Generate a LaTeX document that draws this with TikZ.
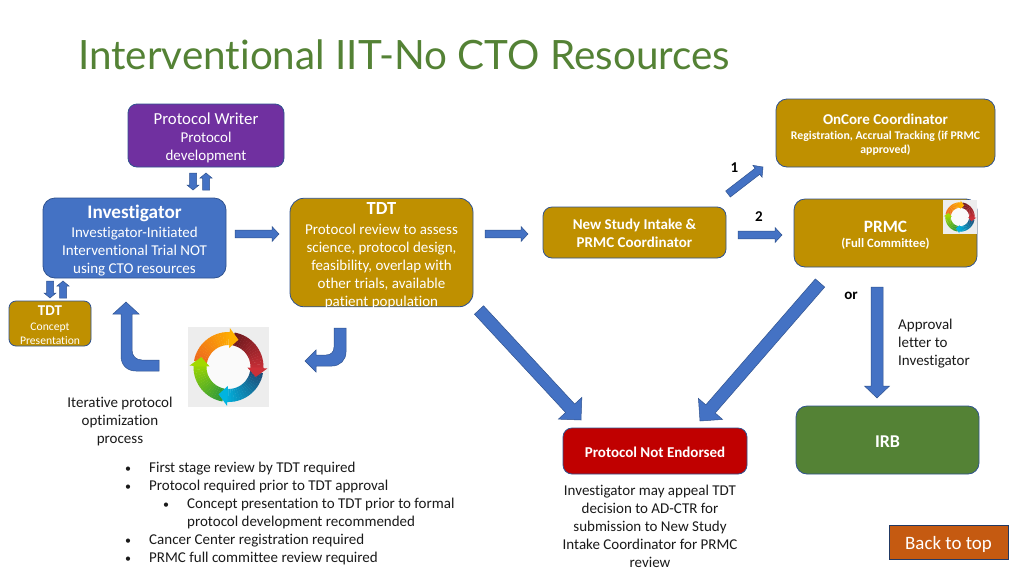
\documentclass[tikz,border=0pt]{standalone}
\usepackage{fontspec}
\setmainfont[Ligatures=NoCommon]{Carlito}
\newfontfamily\titlefont[Ligatures=NoCommon]{Lato}
\usetikzlibrary{calc}
\definecolor{gold}{HTML}{BF9000}
\definecolor{purp}{HTML}{7030A0}
\definecolor{blu}{HTML}{4472C4}
\definecolor{edge}{HTML}{2F528F}
\definecolor{redbox}{HTML}{C00000}
\definecolor{grn}{HTML}{548235}
\definecolor{orng}{HTML}{C55A11}
\definecolor{ink}{HTML}{1A1A1A}
\definecolor{rgA}{HTML}{2F9A3A}\definecolor{rgB}{HTML}{A2D800}
\definecolor{rbA}{HTML}{1F4E79}\definecolor{rbB}{HTML}{00B4E0}
\definecolor{rrA}{HTML}{6E1A1E}\definecolor{rrB}{HTML}{CC3038}
\definecolor{roA}{HTML}{EE6A1E}\definecolor{roB}{HTML}{FFB000}
\newcommand\fs[1]{\fontsize{#1}{18}\selectfont}
\newcommand\st[1]{\rule{0pt}{#1pt}}
\newcommand\blockarrow[5]{%
  \coordinate (ba) at ($(#2)!#5pt!(#1)$);
  \draw[blockstyle] ($(#1)!#3pt!90:(#2)$) -- ($(ba)!#3pt!90:(#2)$) -- ($(ba)!#4pt!90:(#2)$) -- (#2)
    -- ($(ba)!#4pt!-90:(#2)$) -- ($(ba)!#3pt!-90:(#2)$) -- ($(#1)!#3pt!-90:(#2)$) -- cycle;}
\newcommand\ringbody[3]{%
  \foreach \i [evaluate=\i as \p using {int(100*\i/17)}, evaluate=\i as \ang using {#1-10+5*\i}] in {0,...,16}{
    \fill[#3!\p!#2] (\ang:35) -- (\ang+5.5:35) -- (\ang+5.5:22) -- (\ang:22) -- cycle;}}
\newcommand\ringhead[2]{\fill[#2] (#1+72:19) -- (#1+72:39) -- (#1+90:29) -- cycle;}
\tikzset{
  x=1pt,y=-1pt,
  box/.style={draw=edge,line width=.8pt,rounded corners=9pt,inner sep=0pt,align=center,text=white,font=\fs{15}},
  blockstyle/.style={fill=blu,draw=edge,line width=.5pt,line join=miter},
  plain/.style={inner sep=0pt,align=center,text=ink,font=\fs{15}},
  lab/.style={inner sep=0pt,text=black,font=\fs{15}\bfseries},
  pics/cycle/.style={code={
    \fill[black!7] (-40.5,-40) rectangle (40.5,40);
    \fill[black!2] (0,0) circle (24pt);
    \ringbody{110}{rgA}{rgB}
    \ringbody{20}{rbA}{rbB}
    \ringbody{290}{rrA}{rrB}
    \ringbody{200}{roA}{roB}
    \ringhead{110}{rgB}
    \ringhead{20}{rbB}
    \ringhead{290}{rrB}
    \ringhead{200}{roB}
  }}
}
\begin{document}
\begin{tikzpicture}
\useasboundingbox (0,0) rectangle (1024,576);
\fill[white] (0,0) rectangle (1024,576);
\node[inner sep=0pt,anchor=west,text=grn] (title) at (78,54.5) {\titlefont\fontsize{40.4}{44}\selectfont Interventional IIT-No CTO Resources};

\node[box,fill=purp,minimum width=156pt,minimum height=63pt] (writer) at (206,135.5)
  {{\st{16.5}\fs{16.8}Protocol Writer}\\[0pt]Protocol\\development};
\node[box,fill=blu,minimum width=183pt,minimum height=80pt,rounded corners=12pt] (inv) at (134.5,238)
  {{\st{19}\fs{19.2}\bfseries Investigator}\\[1pt]Investigator-Initiated\\Interventional Trial NOT\\using CTO resources};
\node[box,fill=gold,minimum width=183pt,minimum height=108.5pt,rounded corners=14pt] (tdt) at (381.5,252.5) {};
\node[plain,text=white] (tdttext) at (tdt.center)
  {{\st{19}\fs{18.5}\bfseries TDT}\\[2pt]Protocol review to assess\\science, protocol design,\\feasibility, overlap with\\other trials, available\\patient population};
\node[box,fill=gold,minimum width=82pt,minimum height=45pt,rounded corners=7pt,font=\fontsize{11.6}{14}\selectfont] (concept) at (50,323.5)
  {{\st{12.5}\fontsize{15}{14}\selectfont\bfseries TDT}\\[1pt]Concept\\Presentation};
\node[box,fill=gold,minimum width=219pt,minimum height=68pt,rounded corners=11pt,font=\fontsize{11.8}{14}\selectfont\bfseries] (oncore) at (885.5,133)
  {{\st{14}\fontsize{15}{14}\selectfont OnCore Coordinator}\\[1pt]Registration, Accrual Tracking (if PRMC\\approved)};
\node[box,fill=gold,minimum width=183pt,minimum height=51pt,font=\fs{15}\bfseries] (intake) at (634.5,232.5)
  {\st{12.5}New Study Intake \&\\PRMC Coordinator};
\node[box,fill=gold,minimum width=183pt,minimum height=68pt,rounded corners=11pt,font=\fs{12.7}\bfseries] (prmc) at (885.5,233)
  {{\st{16}\fs{17.3}PRMC}\\[-3pt](Full Committee)};
\node[box,fill=redbox,minimum width=184pt,minimum height=46pt,font=\fs{15}\bfseries] (notend) at (655,451)
  {\st{12.5}Protocol Not Endorsed};
\node[box,fill=grn,minimum width=183pt,minimum height=68pt,rounded corners=11pt,font=\fs{18}\bfseries] (irb) at (887.5,440)
  {\st{15}IRB};
\node[draw=edge!70!black,line width=.8pt,fill=orng,minimum width=119pt,minimum height=34pt,inner sep=0pt,text=white,font=\fs{18.9}] (back) at (948.5,542)
  {\st{18.5}Back to top};

% loop images
\pic at (228.5,367) {cycle};
\pic[scale=.42] at (960,217) {cycle};

% small double arrows
\coordinate (w1) at (193,173); \coordinate (w2) at (193,190);
\coordinate (w3) at (206,190); \coordinate (w4) at (206,173);
\blockarrow{w1}{w2}{3.5}{6}{5}
\blockarrow{w3}{w4}{3.5}{6}{5}
\coordinate (c1) at (50,281); \coordinate (c2) at (50,298);
\coordinate (c3) at (63,298); \coordinate (c4) at (63,281);
\blockarrow{c1}{c2}{3.5}{6}{5}
\blockarrow{c3}{c4}{3.5}{6}{5}
% horizontal arrows
\coordinate (a1) at (235,234); \coordinate (a2) at (279,234);
\blockarrow{a1}{a2}{3.8}{7.5}{7}
\coordinate (a3) at (485,234); \coordinate (a4) at (528,234);
\blockarrow{a3}{a4}{3.8}{7.5}{7}
\coordinate (a5) at (738,235); \coordinate (a6) at (782,235);
\blockarrow{a5}{a6}{3.8}{7.5}{7}
\coordinate (a7) at (728,194); \coordinate (a8) at (763,167);
\blockarrow{a7}{a8}{3.8}{7.5}{7}
% long arrows
\coordinate (d1) at (479,310); \coordinate (d2) at (581,420);
\blockarrow{d1}{d2}{6.2}{16}{16}
\coordinate (d3) at (820,283); \coordinate (d4) at (700,421);
\blockarrow{d3}{d4}{6.2}{16}{16}
\coordinate (d5) at (877,287); \coordinate (d6) at (877,398);
\blockarrow{d5}{d6}{6}{12.5}{12}
% bent arrows
\draw[blockstyle] (126,302) -- (139,314) -- (132,314) -- (132,350)
  .. controls (132,356) and (136,360) .. (142,360) -- (159,360) -- (159,371) -- (136,371)
  .. controls (127,371) and (121,365) .. (121,356) -- (121,314) -- (113,314) -- cycle;
\draw[blockstyle] (334,328) -- (346,328) -- (346,352)
  .. controls (346,360) and (340,366) .. (332,366) -- (316,366) -- (316,372) -- (305,361) -- (316,350) -- (316,355) -- (326,355)
  .. controls (331,355) and (334,352) .. (334,347) -- cycle;

% labels
\node[lab] (one) at (734.5,168) {1};
\node[lab] (two) at (759,217) {2};
\node[lab] (orr) at (851,296) {or};
\node[plain,align=left,anchor=west] (appr) at (898,344) {Approval\\letter to\\Investigator};
\node[plain] (iter) at (120,421) {Iterative protocol\\optimization\\process};
\node[plain] (appeal) at (650,526) {Investigator may appeal TDT\\decision to AD-CTR for\\submission to New Study\\Intake Coordinator for PRMC\\review};
\node[plain,align=left,anchor=north west] (bul) at (125,462) {%
  \makebox[24pt][l]{\fontsize{12}{18}\selectfont•}First stage review by TDT required\\
  \makebox[24pt][l]{\fontsize{12}{18}\selectfont•}Protocol required prior to TDT approval\\
  \hspace{38pt}\makebox[24pt][l]{\fontsize{12}{18}\selectfont•}Concept presentation to TDT prior to formal\\
  \hspace{62pt}protocol development recommended\\
  \makebox[24pt][l]{\fontsize{12}{18}\selectfont•}Cancer Center registration required\\
  \makebox[24pt][l]{\fontsize{12}{18}\selectfont•}PRMC full committee review required};
\end{tikzpicture}
\end{document}
